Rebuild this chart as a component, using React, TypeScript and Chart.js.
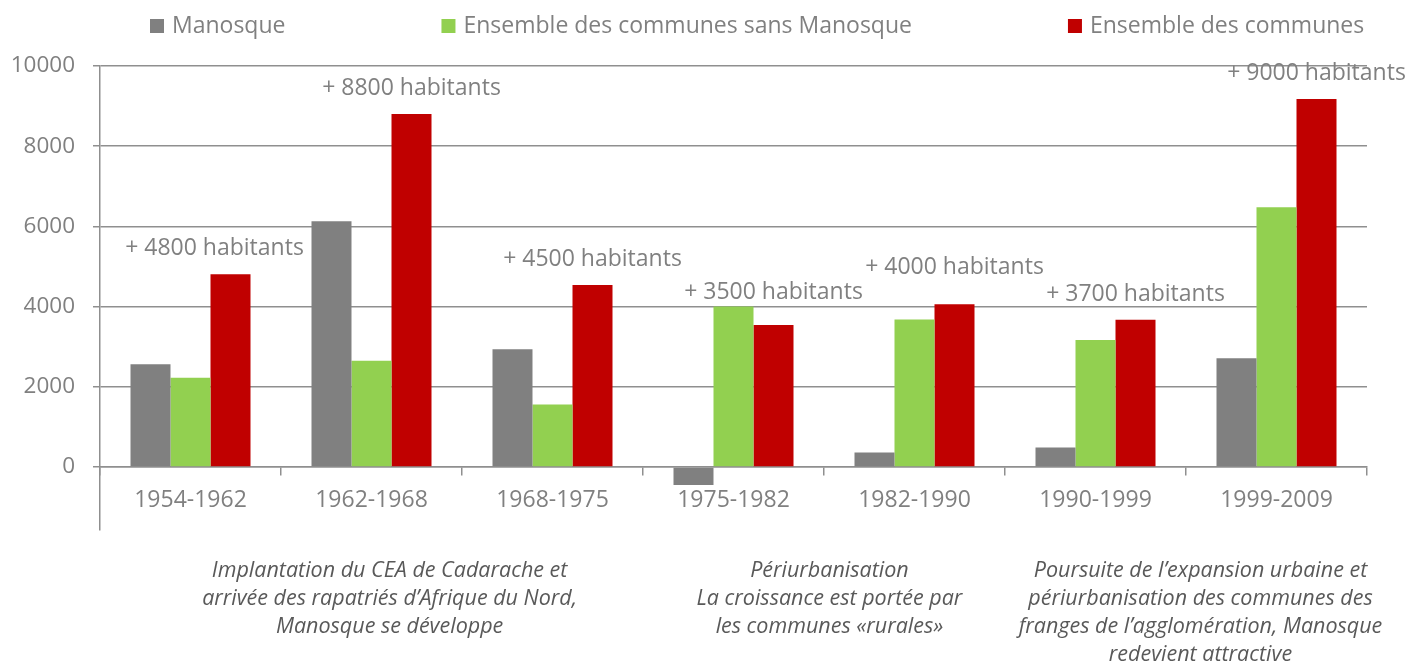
import React, { useEffect, useRef } from "react";
import { Chart, registerables } from "chart.js";

Chart.register(...registerables);

const categories = ["1954-1962", "1962-1968", "1968-1975", "1975-1982", "1982-1990", "1990-1999", "1999-2009"];
const seriesNames = ["Manosque", "Ensemble des communes sans Manosque", "Ensemble des communes"];
const manosque = [2560, 6130, 2940, -450, 365, 490, 2710];
const sansManosque = [2225, 2650, 1560, 4000, 3680, 3170, 6475];
const ensemble = [4810, 8800, 4540, 3540, 4060, 3670, 9180];
const gainLabels = [
  "+ 4800 habitants",
  "+ 8800 habitants",
  "+ 4500 habitants",
  "+ 3500 habitants",
  "+ 4000 habitants",
  "+ 3700 habitants",
  "+ 9000 habitants",
];
const yTicks = [0, 2000, 4000, 6000, 8000, 10000];
const periodTexts = [
  ["Implantation du CEA de Cadarache et", "arrivée des rapatriés d\u2019Afrique du Nord,", "Manosque se développe"],
  ["Périurbanisation", "La croissance est portée par", "les communes «rurales»"],
  [
    "Poursuite de l\u2019expansion urbaine et",
    "périurbanisation des communes des",
    "franges de l\u2019agglomération, Manosque",
    "redevient attractive",
  ],
];

const COLORS = ["#808080", "#92D050", "#C00000"];
const TEXT = "#808080";
const GRID = "#8f8f8f";
const FONT = "'Open Sans', sans-serif";

const decorPlugin = {
  id: "decor",
  afterDraw(chart: any) {
    const ctx = chart.ctx;
    const x = chart.scales.x;
    const y = chart.scales.y;
    ctx.save();

    // Legend
    ctx.font = `23px ${FONT}`;
    ctx.textBaseline = "alphabetic";
    ctx.textAlign = "left";
    let lx = 150;
    seriesNames.forEach((name, i) => {
      ctx.fillStyle = COLORS[i];
      ctx.fillRect(lx, 19, 14, 14);
      ctx.fillStyle = TEXT;
      ctx.fillText(name, lx + 22, 33);
      lx += 22 + ctx.measureText(name).width + 156;
    });

    // Gain annotations
    const redMeta = chart.getDatasetMeta(2);
    const dx = [-16, 0, 0, 0, 0, 0, 0];
    const dy = [0, 0, 0, 11, -11, 0, 0];
    ctx.font = `23px ${FONT}`;
    ctx.textAlign = "center";
    gainLabels.forEach((label, i) => {
      const top = y.getPixelForValue(Math.max(manosque[i], sansManosque[i], ensemble[i]));
      const cx = redMeta.data[i].x + dx[i];
      const cy = top - 27 + dy[i];
      ctx.fillStyle = TEXT;
      ctx.fillText(label, cx, cy + 8);
    });

    // Period descriptions
    const anchors = [1.1, 3.53, 5.58];
    ctx.font = `italic 21.5px ${FONT}`;
    ctx.fillStyle = "#595959";
    periodTexts.forEach((lines, k) => {
      const cx = x.getPixelForValue(anchors[k]);
      lines.forEach((line, j) => {
        ctx.fillText(line, cx, 577 + j * 28);
      });
    });
    ctx.restore();
  },
};

export default function App() {
  const ref = useRef<HTMLCanvasElement | null>(null);
  useEffect(() => {
    if (!ref.current) return;
    const chart = new Chart(ref.current, {
      type: "bar",
      data: {
        labels: categories,
        datasets: [
          { label: seriesNames[0], data: manosque, backgroundColor: COLORS[0] },
          { label: seriesNames[1], data: sansManosque, backgroundColor: COLORS[1] },
          { label: seriesNames[2], data: ensemble, backgroundColor: COLORS[2] },
        ],
      },
      options: {
        animation: false,
        responsive: true,
        maintainAspectRatio: false,
        layout: { padding: { left: 0, right: 46, top: 66, bottom: 136 } },
        datasets: { bar: { categoryPercentage: 0.663, barPercentage: 1, borderWidth: 0 } },
        plugins: { legend: { display: false }, tooltip: { enabled: false } },
        scales: {
          x: {
            position: { y: 0 } as any,
            grid: {
              display: true,
              drawOnChartArea: false,
              drawTicks: true,
              tickLength: 8,
              offset: true,
              color: GRID,
              lineWidth: 1.5,
            },
            border: { display: true, color: GRID, width: 1.5 },
            ticks: { color: TEXT, font: { family: FONT, size: 23 }, padding: 12, maxRotation: 0 },
          },
          y: {
            min: -1570,
            max: 10000,
            afterBuildTicks: (scale: any) => {
              scale.ticks = yTicks.map((v) => ({ value: v }));
            },
            afterFit: (scale: any) => {
              scale.width = 100;
            },
            grid: { color: GRID, lineWidth: 1.5, tickLength: 7, drawTicks: true },
            border: { display: true, color: GRID, width: 1.5 },
            ticks: {
              color: TEXT,
              font: { family: FONT, size: 22.5 },
              padding: 18,
              callback: (v: any) => String(v),
            },
          },
        },
      },
      plugins: [decorPlugin],
    });
    return () => chart.destroy();
  }, []);
  return (
    <div style={{ position: "fixed", left: 0, top: 0, width: 1413, height: 666, background: "#fff" }}>
      <canvas ref={ref} />
    </div>
  );
}
